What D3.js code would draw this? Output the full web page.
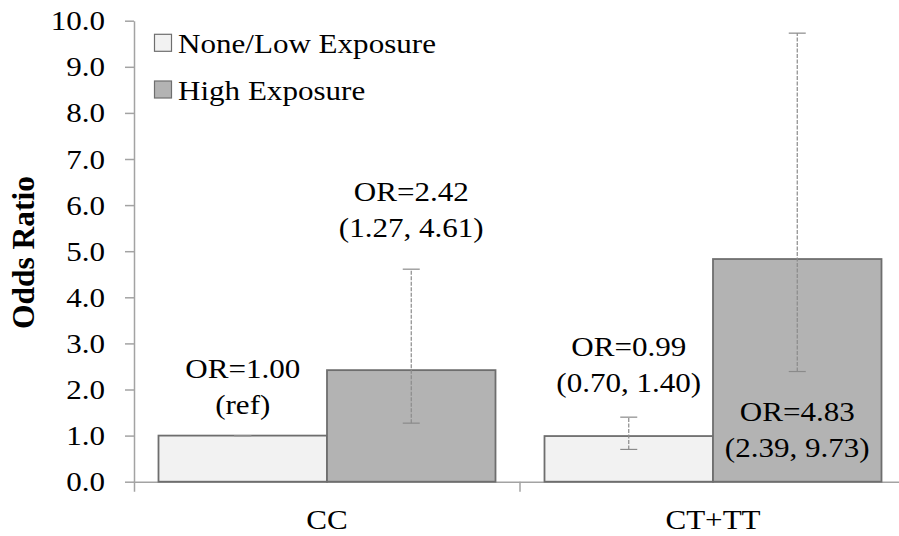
<!DOCTYPE html>
<html>
<head>
<meta charset="utf-8">
<script src="https://cdn.jsdelivr.net/npm/d3@7/dist/d3.min.js"></script>
<style>
  html, body { margin: 0; padding: 0; background: #ffffff; }
  svg { display: block; overflow: hidden; }
  text { font-family: "Liberation Serif", "Times New Roman", serif; fill: #000; }
</style>
</head>
<body>
<div id="chart"></div>
<script>
// ---------------- data ----------------
const categories = ["CC", "CT+TT"];
const seriesNames = ["None/Low Exposure", "High Exposure"];
const oddsLowExposure = [1.00, 0.99];
const oddsHighExposure = [2.42, 4.83];
const ciLowerLowExposure = [1.00, 0.70];
const ciUpperLowExposure = [1.00, 1.40];
const ciLowerHighExposure = [1.27, 2.39];
const ciUpperHighExposure = [4.61, 9.73];
const referenceFlags = [true, false]; // CC / None-Low is the reference group
const yTickValues = [0, 1, 2, 3, 4, 5, 6, 7, 8, 9, 10];
const yAxisTitle = "Odds Ratio";

// ---------------- layout ----------------
const W = 899, H = 536;
const fontSize = 27.5, stretch = 1.13;
const fills = ["#f2f2f2", "#b3b3b3"];

const svg = d3.select("#chart").append("svg")
  .attr("width", W).attr("height", H);

const y = d3.scaleLinear().domain([0, 10]).range([481.7, 20.7]);
const x0 = d3.scaleBand().domain(categories).range([134, 906]).padding(0);
const x1 = d3.scaleBand().domain(seriesNames).range([0, x0.bandwidth()])
  .paddingInner(0).paddingOuter(0.1454);

// records
const records = [];
categories.forEach((c, i) => {
  records.push({cat: c, series: seriesNames[0], v: oddsLowExposure[i],
    lo: ciLowerLowExposure[i], hi: ciUpperLowExposure[i], ref: referenceFlags[i]});
  records.push({cat: c, series: seriesNames[1], v: oddsHighExposure[i],
    lo: ciLowerHighExposure[i], hi: ciUpperHighExposure[i], ref: false});
});
// label baseline (second line) expressed on the value scale
const labelAnchor = [1.47, 5.31, 1.95, 0.54];

function stretchedText(parent, x, yy, str, anchor, size, weight) {
  const g = parent.append("g").attr("transform", `translate(${x},${yy}) scale(${stretch},1)`);
  g.append("text").attr("text-anchor", anchor || "start")
    .style("font-size", (size || fontSize) + "px")
    .style("font-weight", weight || "normal")
    .text(str);
  return g;
}

// ---------------- axes ----------------
const axisColor = "#a3a3a3";
const yAxis = svg.append("g").attr("transform", "translate(134,0)")
  .call(d3.axisLeft(y).tickValues(yTickValues).tickFormat(d3.format(".1f"))
    .tickSize(9).tickSizeOuter(0).tickPadding(20));
yAxis.selectAll("path, line").attr("stroke", axisColor).attr("stroke-width", 1.5);
yAxis.selectAll("text")
  .style("font-size", fontSize + "px")
  .style("font-family", "'Liberation Serif','Times New Roman',serif")
  .attr("fill", "#000")
  .attr("x", -29 / stretch)
  .attr("dy", "0.33em")
  .attr("transform", `scale(${stretch},1)`);

const xAxis = svg.append("g").attr("transform", `translate(0,${y(0)})`)
  .call(d3.axisBottom(x0).tickSizeInner(0).tickSizeOuter(10).tickPadding(0));
xAxis.selectAll("path, line").attr("stroke", axisColor).attr("stroke-width", 1.5);
xAxis.selectAll(".tick text").remove();
// category boundary ticks
categories.slice(1).forEach(c => {
  xAxis.append("line").attr("x1", x0(c)).attr("x2", x0(c))
    .attr("y1", 0).attr("y2", 10).attr("stroke", axisColor).attr("stroke-width", 1.5);
});
// category labels
categories.forEach(c => {
  stretchedText(svg, x0(c) + x0.bandwidth() / 2, y(0) + 47.5, c, "middle");
});

// y axis title
svg.append("text")
  .attr("transform", `translate(33.5,252.5) rotate(-90)`)
  .attr("text-anchor", "middle")
  .style("font-size", "31.5px").style("font-weight", "bold")
  .text(yAxisTitle);

// ---------------- bars ----------------
const barX = d => x0(d.cat) + x1(d.series);
svg.append("g").selectAll("rect").data(records).join("rect")
  .attr("x", barX)
  .attr("y", d => y(d.v))
  .attr("width", x1.bandwidth())
  .attr("height", d => y(0) - y(d.v))
  .attr("fill", d => fills[seriesNames.indexOf(d.series)])
  .attr("stroke", "#6e6e6e").attr("stroke-width", 1.8);

// ---------------- error bars ----------------
const eb = svg.append("g").attr("stroke", "#8a8a8a").attr("stroke-width", 1.2);
records.forEach(d => {
  const cx = barX(d) + x1.bandwidth() / 2;
  eb.append("line").attr("x1", cx).attr("x2", cx)
    .attr("y1", y(d.lo)).attr("y2", y(d.hi)).attr("stroke-dasharray", "4,1.5");
  [d.lo, d.hi].forEach(v => {
    eb.append("line").attr("x1", cx - 8.5).attr("x2", cx + 8.5)
      .attr("y1", y(v)).attr("y2", y(v));
  });
});

// ---------------- data labels ----------------
const fmt = d3.format(".2f");
records.forEach((d, i) => {
  const cx = barX(d) + x1.bandwidth() / 2;
  const base2 = y(labelAnchor[i]);
  stretchedText(svg, cx, base2 - 35.5, `OR=${fmt(d.v)}`, "middle");
  stretchedText(svg, cx, base2, d.ref ? "(ref)" : `(${fmt(d.lo)}, ${fmt(d.hi)})`, "middle");
});

// ---------------- legend ----------------
const legend = svg.append("g");
seriesNames.forEach((s, i) => {
  const baseY = 53.3 + i * 46.7;
  legend.append("rect").attr("x", 154.5).attr("y", baseY - 19)
    .attr("width", 17).attr("height", 17)
    .attr("fill", fills[i]).attr("stroke", "#6e6e6e").attr("stroke-width", 1.2);
  stretchedText(legend, 178, baseY, s, "start");
});
</script>
</body>
</html>
